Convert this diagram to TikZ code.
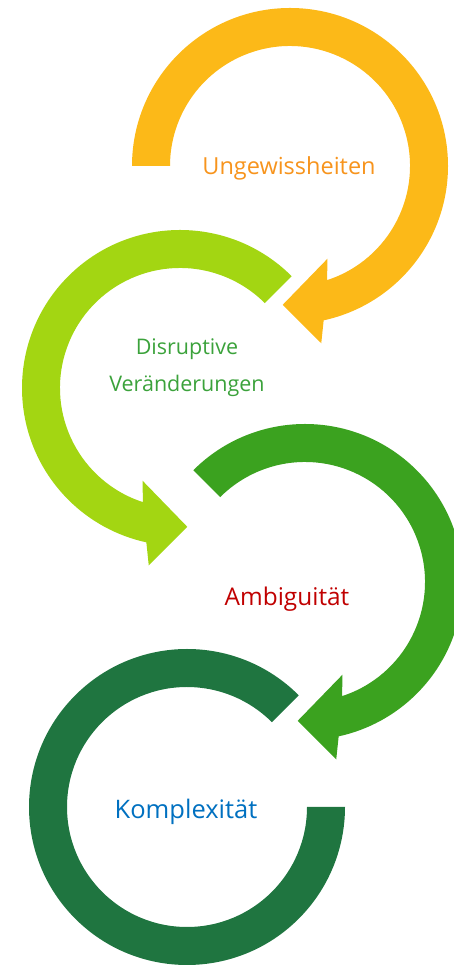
\documentclass[tikz,border=0pt]{standalone}
\usepackage{fontspec}
\setmainfont{Open Sans}
\usetikzlibrary{calc}
\definecolor{ungewissarc}{HTML}{FCB918}
\definecolor{disruptarc}{HTML}{A3D612}
\definecolor{ambigarc}{HTML}{3BA21F}
\definecolor{komplexarc}{HTML}{1F7540}
\definecolor{ungewisstext}{HTML}{F7941D}
\definecolor{disrupttext}{HTML}{3BA23B}
\definecolor{ambigtext}{HTML}{C00000}
\definecolor{komplextext}{HTML}{0070C0}

\begin{document}
\begin{tikzpicture}[x=1pt,y=1pt,
  ringtext/.style={font=\fontsize{#1}{37}\selectfont, align=center, inner sep=0pt, anchor=base}]
  \useasboundingbox (0,0) rectangle (453,966);
  \coordinate (O1) at (290,800);
  \coordinate (O2) at (180,578);
  \coordinate (O3) at (305,384);
  \coordinate (O4) at (187,159);
  % first ring, clockwise with head
  \fill[ungewissarc] ($(O1)+(180:158)$) arc[start angle=180,end angle=-77.7,radius=158]
    -- ($(O1)+(-80:180)$) -- ($(O1)+(-93:139)$) -- ($(O1)+(-68:100)$)
    -- ($(O1)+(-72:120)$) arc[start angle=-72,end angle=180,radius=120] -- cycle;
  % second ring, counterclockwise with head
  \fill[disruptarc] ($(O2)+(45:158)$) arc[start angle=45,end angle=257.7,radius=158]
    -- ($(O2)+(260:180)$) -- ($(O2)+(273:139)$) -- ($(O2)+(248:100)$)
    -- ($(O2)+(252:120)$) arc[start angle=252,end angle=45,radius=120] -- cycle;
  % third ring
  \fill[ambigarc] ($(O3)+(135:158)$) arc[start angle=135,end angle=-77.7,radius=158]
    -- ($(O3)+(-80:180)$) -- ($(O3)+(-93:139)$) -- ($(O3)+(-68:100)$)
    -- ($(O3)+(-72:120)$) arc[start angle=-72,end angle=135,radius=120] -- cycle;
  % last ring, no head
  \fill[komplexarc] ($(O4)+(45:158)$) arc[start angle=45,end angle=360,radius=158]
    -- ($(O4)+(0:120)$) arc[start angle=360,end angle=45,radius=120] -- cycle;

  \node[ringtext=23.5, text=ungewisstext] (ungewiss) at (289,791) {Ungewissheiten};
  \node[ringtext=21.5, text=disrupttext] (disrupt) at (187,574) {Disruptive\\Veränderungen};
  \node[ringtext=24.4, text=ambigtext] (ambig) at (287,360) {Ambiguität};
  \node[ringtext=25.5, text=komplextext] (komplex) at (186,147) {Komplexität};
\end{tikzpicture}
\end{document}
